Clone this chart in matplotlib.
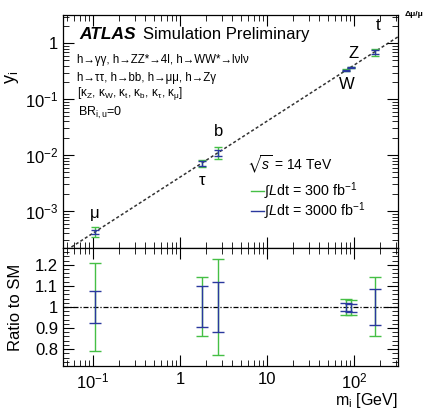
import matplotlib
matplotlib.use("Agg")
import matplotlib.pyplot as plt
from matplotlib.ticker import NullFormatter, LogLocator, MultipleLocator

plt.rcParams["font.family"] = ["Liberation Sans", "DejaVu Sans"]
plt.rcParams["mathtext.fontset"] = "custom"
plt.rcParams["mathtext.rm"] = "Liberation Sans"
plt.rcParams["mathtext.it"] = "Liberation Sans:italic"
plt.rcParams["mathtext.bf"] = "Liberation Sans:bold"
plt.rcParams["mathtext.fallback"] = "stixsans"

# ---- data ----
particles = ["mu", "tau", "b", "W", "Z", "t"]
mass = [0.1057, 1.777, 2.75, 80.4, 91.2, 173.0]
y_sm = [4.3e-4, 7.2e-3, 1.12e-2, 0.327, 0.371, 0.70]
# ratio to SM: lower / upper ends of the error bars
lo_300 = [0.79, 0.86, 0.77, 0.96, 0.962, 0.86]
hi_300 = [1.21, 1.14, 1.23, 1.04, 1.035, 1.14]
lo_3000 = [0.925, 0.905, 0.88, 0.98, 0.975, 0.915]
hi_3000 = [1.075, 1.10, 1.12, 1.02, 1.015, 1.085]

sm_x = [0.05, 400.0]
sm_y = [2.03e-4, 1.626]

# particle labels: text, x, y
lab_txt = ["μ", "τ", "b", "W", "Z", "t"]
lab_x = [0.105, 1.78, 2.75, 83.0, 100.0, 190.0]
lab_y = [9.2e-4, 3.6e-3, 2.7e-2, 0.185, 0.66, 2.1]

green = "#45bf45"
blue = "#2a389e"

fig = plt.figure(figsize=(4.34, 4.11), dpi=100)
ax1 = fig.add_axes([0.145, 0.3966, 0.772, 0.567])
ax2 = fig.add_axes([0.145, 0.1095, 0.772, 0.2871], sharex=ax1)

# ---- top panel ----
ax1.plot(sm_x, sm_y, color="#333333", ls=(0, (2, 1.5)), lw=1.1, zorder=1)

for m, y, l3, h3, l30, h30 in zip(mass, y_sm, lo_300, hi_300, lo_3000, hi_3000):
    ax1.errorbar(m, y, yerr=[[y * (1 - l3)], [y * (h3 - 1)]], fmt="none",
                 ecolor=green, elinewidth=1.0, capsize=3, capthick=1.0, zorder=2)
    ax1.errorbar(m, y, yerr=[[y * (1 - l30)], [y * (h30 - 1)]], fmt="none",
                 ecolor=blue, elinewidth=1.0, capsize=3, capthick=1.0, zorder=3)

for t, x, y in zip(lab_txt, lab_x, lab_y):
    ax1.text(x, y, t, fontsize=12, ha="center", va="center")

ax1.set_xscale("log")
ax1.set_yscale("log")
ax1.set_xlim(0.045, 320)
ax1.set_ylim(2.2e-4, 3.2)
ax1.set_ylabel(r"y$_\mathregular{i}$", fontsize=13)
ax1.yaxis.set_label_coords(-0.125, 0.73)
ax1.set_yticks([1e-3, 1e-2, 1e-1, 1])
ax1.set_yticklabels([r"$10^{-3}$", r"$10^{-2}$", r"$10^{-1}$", "1"])
ax1.yaxis.set_minor_locator(LogLocator(base=10, subs=range(2, 10), numticks=20))
ax1.yaxis.set_minor_formatter(NullFormatter())
plt.setp(ax1.get_xticklabels(), visible=False)

tx = ax1.transAxes
ax1.text(0.05, 0.915, "ATLAS", fontsize=12.5, fontweight="bold", style="italic",
         transform=tx, va="center")
ax1.text(0.24, 0.915, "Simulation Preliminary", fontsize=12, transform=tx, va="center")
ax1.text(0.042, 0.807, "h→γγ, h→ZZ*→4l, h→WW*→lνlν", fontsize=8.3, transform=tx, va="center")
ax1.text(0.042, 0.73, "h→ττ, h→bb, h→μμ, h→Zγ", fontsize=8.3, transform=tx, va="center")
ax1.text(0.042, 0.665,
         r"[κ$_\mathregular{Z}$, κ$_\mathregular{W}$, κ$_\mathregular{t}$, "
         r"κ$_\mathregular{b}$, κ$_\mathregular{τ}$, κ$_\mathregular{μ}$]",
         fontsize=8.5, transform=tx, va="center")
ax1.text(0.045, 0.579, r"BR$_\mathregular{i,u}$=0", fontsize=9, transform=tx, va="center")
ax1.text(0.55, 0.356, r"$\sqrt{\mathit{s}}$ = 14 TeV", fontsize=10, transform=tx, va="center")

# legend drawn by hand
ax1.plot([0.56, 0.6], [0.245, 0.245], color=green, lw=1.0, transform=tx)
ax1.plot([0.56, 0.6], [0.159, 0.159], color=blue, lw=1.0, transform=tx)
ax1.text(0.6, 0.245, r"$\int$$\mathit{L}$dt = 300 fb$^{-1}$", fontsize=10.3,
         transform=tx, va="center")
ax1.text(0.6, 0.159, r"$\int$$\mathit{L}$dt = 3000 fb$^{-1}$", fontsize=10.3,
         transform=tx, va="center")

# ---- ratio panel ----
ax2.axhline(1.0, color="black", ls=(0, (4, 1.5, 1, 1.5)), lw=0.9, zorder=1)
for m, l3, h3, l30, h30 in zip(mass, lo_300, hi_300, lo_3000, hi_3000):
    ax2.errorbar(m, 1.0, yerr=[[1 - l3], [h3 - 1]], fmt="none", ecolor=green,
                 elinewidth=1.0, capsize=4, capthick=1.0, zorder=2)
    ax2.errorbar(m, 1.0, yerr=[[1 - l30], [h30 - 1]], fmt="none", ecolor=blue,
                 elinewidth=1.0, capsize=4, capthick=1.0, zorder=3)

ax2.set_ylim(0.72, 1.28)
ax2.set_yticks([0.8, 0.9, 1.0, 1.1, 1.2])
ax2.set_yticklabels(["0.8", "0.9", "1", "1.1", "1.2"])
ax2.yaxis.set_minor_locator(MultipleLocator(0.02))
ax2.set_ylabel("Ratio to SM", fontsize=12)
ax2.yaxis.set_label_coords(-0.12, 0.5)
ax2.set_xticks([0.1, 1, 10, 100])
ax2.set_xticklabels([r"$10^{-1}$", "1", "10", r"$10^{2}$"])
ax2.xaxis.set_minor_locator(LogLocator(base=10, subs=range(2, 10), numticks=20))
ax2.xaxis.set_minor_formatter(NullFormatter())
ax2.set_xlabel(r"m$_\mathregular{i}$ [GeV]", fontsize=11.5, loc="right", labelpad=0)

for ax in (ax1, ax2):
    ax.tick_params(which="both", direction="in", top=True, right=True, labelsize=12)
    ax.tick_params(which="major", length=8, width=0.8)
    ax.tick_params(which="minor", length=4, width=0.6)
    for s in ax.spines.values():
        s.set_linewidth(0.9)
ax2.tick_params(axis="x", which="major", pad=4)

fig.text(0.955, 0.965, "Δμ/μ", fontsize=6, fontweight="bold", ha="center", va="center")

fig.savefig("out.png", dpi=100)
